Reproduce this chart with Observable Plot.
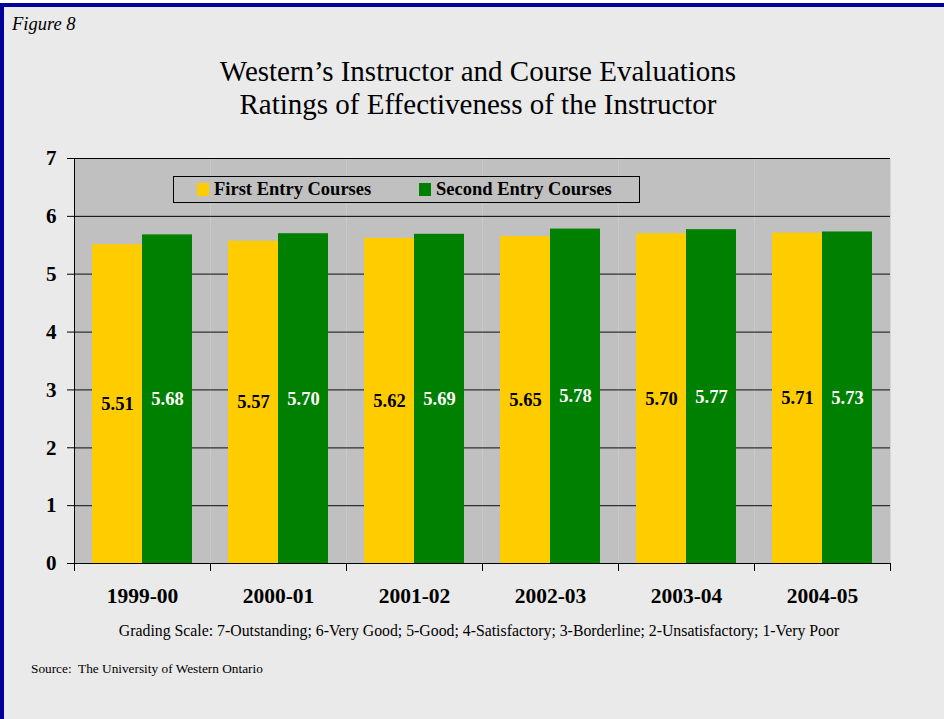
<!DOCTYPE html>
<html>
<head>
<meta charset="utf-8">
<script src="https://cdn.jsdelivr.net/npm/d3@7"></script>
<script src="https://cdn.jsdelivr.net/npm/@observablehq/plot@0.6"></script>
<style>
  html, body { margin: 0; padding: 0; background: #ffffff; }
  #page {
    position: relative; width: 940px; height: 712px;
    margin-top: 3px; background: #EAEAEA;
    border-top: 4px solid #000099; border-left: 4px solid #000099;
    font-family: "Liberation Serif", "Times New Roman", serif; color: #000;
    overflow: hidden;
  }
  .abs { position: absolute; }
  #fig { left: 8px; top: 7px; font-size: 18.5px; font-style: italic; }
  #title { left: -4px; width: 956px; top: 48px; text-align: center; font-size: 29px; line-height: 33px; }
  #chart { left: -4px; top: -7px; }
  #legend {
    left: 169px; top: 169px; width: 465px; height: 25px;
    background: #C0C0C0; border: 1px solid #000;
    font-size: 18.5px; font-weight: bold;
  }
  .item { display: flex; align-items: center; position: absolute; top: 0; height: 25px; }
  .sw { width: 12px; height: 13px; margin-right: 5px; }
  #scale { left: 0px; width: 950px; top: 615px; text-align: center; font-size: 15.8px; }
  #source { left: 27px; top: 654px; font-size: 13.3px; }
</style>
</head>
<body>
<div id="page">
  <div id="fig" class="abs">Figure 8</div>
  <div id="title" class="abs">Western’s Instructor and Course Evaluations<br>Ratings of Effectiveness of the Instructor</div>
  <div id="chart" class="abs"></div>
  <div id="legend" class="abs"></div>
  <div id="scale" class="abs">Grading Scale: 7-Outstanding; 6-Very Good; 5-Good; 4-Satisfactory; 3-Borderline; 2-Unsatisfactory; 1-Very Poor</div>
  <div id="source" class="abs">Source:&nbsp; The University of Western Ontario</div>
</div>
<script>
const years = ["1999-00", "2000-01", "2001-02", "2002-03", "2003-04", "2004-05"];
const seriesNames = ["First Entry Courses", "Second Entry Courses"];
const firstEntry = [5.51, 5.57, 5.62, 5.65, 5.70, 5.71];
const secondEntry = [5.68, 5.70, 5.69, 5.78, 5.77, 5.73];
const yTicks = [0, 1, 2, 3, 4, 5, 6, 7];
const colors = ["#FFCC00", "#008000"];
const labelColors = ["#000000", "#FFFFFF"];

const data = [];
years.forEach((y, i) => {
  data.push({year: y, series: seriesNames[0], value: firstEntry[i]});
  data.push({year: y, series: seriesNames[1], value: secondEntry[i]});
});

const chart = Plot.plot({
  width: 944,
  height: 620,
  marginLeft: 73,
  marginRight: 54,
  marginTop: 158,
  marginBottom: 57,
  style: {background: "transparent", fontFamily: "Liberation Serif, Times New Roman, serif", color: "#000", overflow: "visible"},
  fx: {domain: years, padding: 0, label: null},
  x: {domain: seriesNames, paddingInner: 0, paddingOuter: 0.35, align: 0.5, axis: null},
  y: {domain: [0, 7], label: null},
  color: {domain: seriesNames, range: colors},
  marks: [
    Plot.frame({fill: "#C0C0C0", stroke: null}),
    Plot.gridY(yTicks.filter(t => t > 0 && t < 6), {stroke: "#303030", strokeOpacity: 1, strokeWidth: 1.3}),
    Plot.gridY(yTicks.filter(t => t >= 6), {stroke: "#000", strokeOpacity: 1, strokeWidth: 1}),
    Plot.barY(data, {fx: "year", x: "series", y: "value", fill: "series"}),
    Plot.text(data, {
      fx: "year", x: "series", y: d => d.value / 2,
      text: d => d.value.toFixed(2),
      fill: d => labelColors[seriesNames.indexOf(d.series)],
      fontSize: 18.5, fontWeight: "bold"
    }),
    Plot.ruleY([0], {stroke: "#000", strokeWidth: 1}),
    Plot.frame({anchor: "left", stroke: "#000", insetTop: 405, insetBottom: -7}),
    Plot.frame({anchor: "right", stroke: "#000", insetTop: 405, insetBottom: -7}),
    Plot.frame({anchor: "left", stroke: "#000", fx: years[0]}),
    Plot.axisY({ticks: yTicks, tickSize: 7, tickPadding: 11, fontSize: 21, fontWeight: "bold", label: null, tickFormat: d => String(d)}),
    Plot.axisFx({anchor: "bottom", tickSize: 0, tickPadding: 24, fontSize: 21.5, fontWeight: "bold", label: null})
  ]
});
document.getElementById("chart").appendChild(chart);

const legend = document.getElementById("legend");
const legendX = [23, 245];
seriesNames.forEach((name, i) => {
  const item = document.createElement("div");
  item.className = "item";
  item.style.left = legendX[i] + "px";
  const sw = document.createElement("div");
  sw.className = "sw";
  sw.style.background = colors[i];
  const t = document.createElement("span");
  t.textContent = name;
  item.appendChild(sw);
  item.appendChild(t);
  legend.appendChild(item);
});
</script>
</body>
</html>
